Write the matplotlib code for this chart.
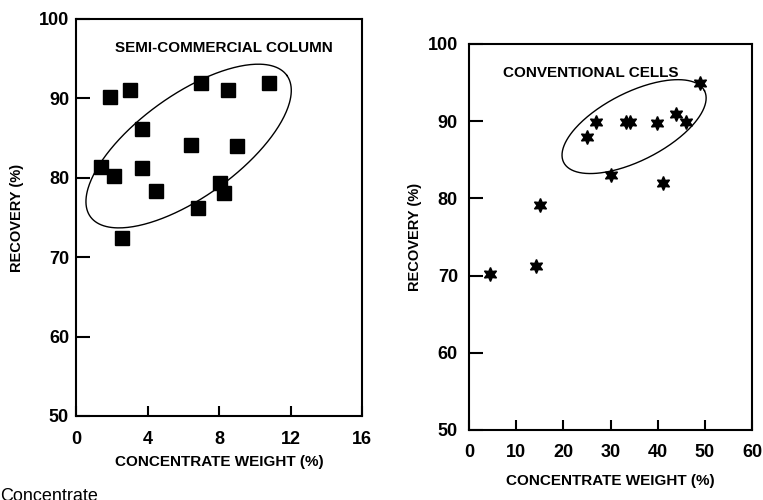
# Recovery vs concentrate weight: semi-commercial column vs conventional cells
import numpy as np
import matplotlib.pyplot as plt

plt.rcParams['font.family'] = ['Liberation Sans', 'DejaVu Sans']
plt.rcParams['font.weight'] = 'bold'

# Semi-commercial column (squares)
semi_weight = [1.9, 3.0, 7.0, 8.5, 10.8, 3.7, 6.45, 9.0, 1.4, 2.1, 3.7, 4.5, 6.8, 8.05, 8.3, 2.6]
semi_recovery = [90.2, 91.0, 92.0, 91.0, 92.0, 86.1, 84.1, 84.0, 81.4, 80.2, 81.2, 78.3, 76.2, 79.3, 78.1, 72.4]

# Conventional cells (stars)
conv_weight = [4.4, 14.3, 15.1, 25.0, 27.0, 33.3, 34.2, 30.1, 39.9, 41.2, 43.8, 46.0, 48.9]
conv_recovery = [70.2, 71.3, 79.1, 87.9, 89.9, 89.9, 89.9, 83.0, 89.8, 82.0, 90.9, 89.9, 94.9]

semi_xticks = [0, 4, 8, 12, 16]
conv_xticks = [0, 10, 20, 30, 40, 50, 60]
yticks = [50, 60, 70, 80, 90, 100]

W, H = 763, 500
fig = plt.figure(figsize=(W / 100, H / 100), dpi=100)

ax1 = fig.add_axes([76 / W, (H - 416) / H, 286 / W, 397 / H])
ax2 = fig.add_axes([469 / W, (H - 430) / H, 283 / W, 386 / H])


def draw_ellipse(ax, cx, cy, a, b, angle):
    # a, b are semi-axes in screen pixels, angle in degrees on screen
    pos = ax.get_position()
    x0, x1 = ax.get_xlim()
    y0, y1 = ax.get_ylim()
    sx = pos.width * W / (x1 - x0)
    sy = pos.height * H / (y1 - y0)
    t = np.linspace(0, 2 * np.pi, 300)
    th = np.radians(angle)
    dx = a * np.cos(t) * np.cos(th) - b * np.sin(t) * np.sin(th)
    dy = a * np.cos(t) * np.sin(th) + b * np.sin(t) * np.cos(th)
    ax.plot(cx + dx / sx, cy + dy / sy, color='black', lw=1.0)


for ax in (ax1, ax2):
    ax.set_ylim(50, 100)
    ax.set_yticks(yticks)
    for s in ax.spines.values():
        s.set_linewidth(1.5)
    ax.tick_params(direction='in', width=1.5, labelsize=13)
    ax.tick_params(axis='y', length=10)
    ax.tick_params(axis='x', length=7)
    ax.set_ylabel('RECOVERY (%)', fontsize=10.5, fontweight='bold')
    ax.set_xlabel('CONCENTRATE WEIGHT (%)', fontsize=11, fontweight='bold')

# left panel
ax1.set_xlim(0, 16)
ax1.set_xticks(semi_xticks)
ax1.tick_params(axis='y', pad=5)
ax1.tick_params(axis='x', pad=11)
ax1.plot(semi_weight, semi_recovery, 's', color='black', ms=9.5, ls='none')
draw_ellipse(ax1, 6.3, 84.0, 121, 51, 35.7)
ax1.text(0.136, 0.927, 'SEMI-COMMERCIAL COLUMN', transform=ax1.transAxes,
         fontsize=11, fontweight='bold', va='center', ha='left')
ax1.xaxis.set_label_coords(0.5, -0.098)
ax1.yaxis.set_label_coords(-0.182, 0.5)

# right panel
ax2.set_xlim(0, 60)
ax2.set_xticks(conv_xticks)
ax2.tick_params(axis='y', pad=8)
ax2.tick_params(axis='x', pad=10)
ax2.plot(conv_weight, conv_recovery, marker=(6, 1, 0), color='black', ms=10, ls='none')
draw_ellipse(ax2, 35.0, 89.3, 79, 34, 27)
ax2.text(0.12, 0.925, 'CONVENTIONAL CELLS', transform=ax2.transAxes,
         fontsize=11, fontweight='bold', va='center', ha='left')
ax2.xaxis.set_label_coords(0.5, -0.114)
ax2.yaxis.set_label_coords(-0.166, 0.5)

# caption of the page, cut off at the bottom edge as in the scan
fig.text(0, 12 / H, 'Concentrate', fontsize=13, fontweight='normal', va='top')

fig.savefig('out.png', dpi=100)
